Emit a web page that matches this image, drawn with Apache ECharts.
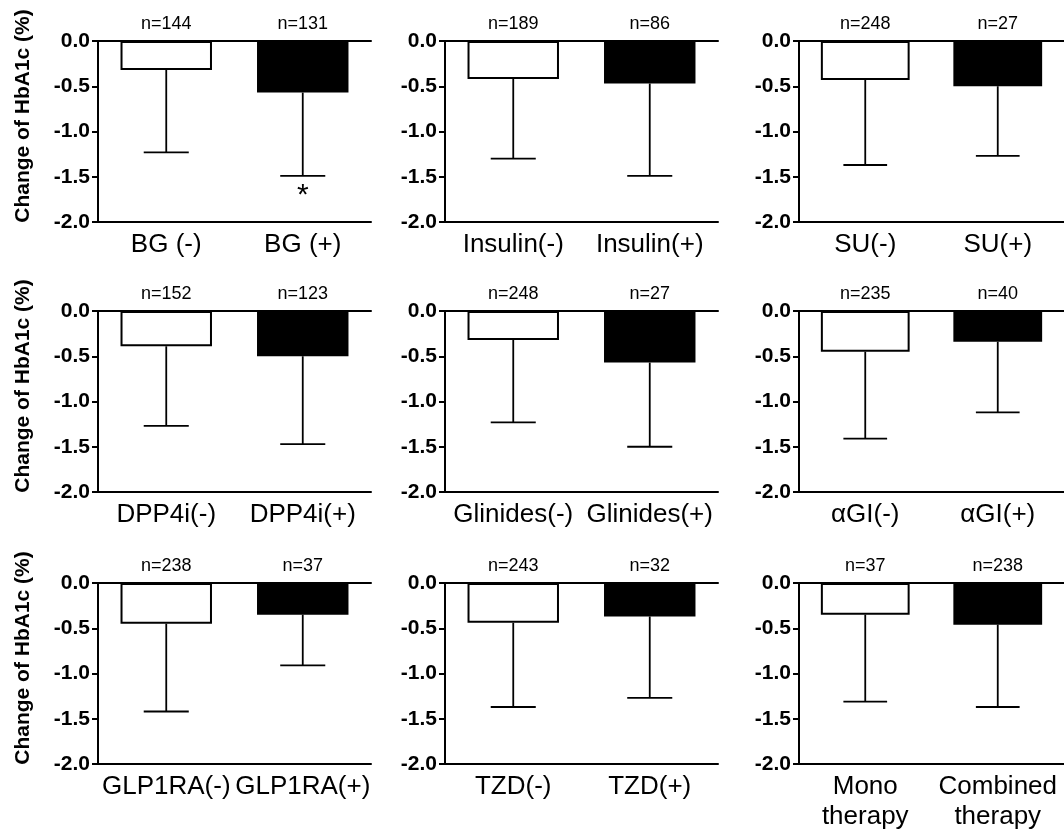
<!DOCTYPE html>
<html>
<head>
<meta charset="utf-8">
<script src="https://cdn.jsdelivr.net/npm/echarts@6/dist/echarts.min.js"></script>
<style>html,body{margin:0;padding:0;background:#fff}#c{width:1064px;height:834px}</style>
</head>
<body>
<div id="c"></div>
<script>
// ---- data ----
const categories = [
  ['BG (-)', 'BG (+)'],
  ['Insulin(-)', 'Insulin(+)'],
  ['SU(-)', 'SU(+)'],
  ['DPP4i(-)', 'DPP4i(+)'],
  ['Glinides(-)', 'Glinides(+)'],
  ['αGI(-)', 'αGI(+)'],
  ['GLP1RA(-)', 'GLP1RA(+)'],
  ['TZD(-)', 'TZD(+)'],
  ['Mono\ntherapy', 'Combined\ntherapy']
];
const nLabels = [
  ['n=144', 'n=131'],
  ['n=189', 'n=86'],
  ['n=248', 'n=27'],
  ['n=152', 'n=123'],
  ['n=248', 'n=27'],
  ['n=235', 'n=40'],
  ['n=238', 'n=37'],
  ['n=243', 'n=32'],
  ['n=37', 'n=238']
];
const meanChange = [
  [-0.32, -0.57],
  [-0.42, -0.47],
  [-0.43, -0.50],
  [-0.39, -0.50],
  [-0.32, -0.57],
  [-0.45, -0.34],
  [-0.45, -0.35],
  [-0.44, -0.37],
  [-0.35, -0.46]
];
const errorEnd = [
  [-1.23, -1.49],
  [-1.30, -1.49],
  [-1.37, -1.27],
  [-1.27, -1.47],
  [-1.23, -1.50],
  [-1.41, -1.12],
  [-1.42, -0.91],
  [-1.37, -1.27],
  [-1.31, -1.37]
];
const significance = [
  ['', '*'], ['', ''], ['', ''],
  ['', ''], ['', ''], ['', ''],
  ['', ''], ['', ''], ['', '']
];
const yTicks = { min: -2.0, max: 0.0, step: 0.5 };
const yTitle = 'Change of HbA1c (%)';

// ---- layout ----
const FONT = '"Liberation Sans", Arial, Helvetica, sans-serif';
const colLeft = [98, 445, 799];
const colWidth = 273;
const rowTop = [41, 311, 583];
const plotH = 181;

const chart = echarts.init(document.getElementById('c'), null, { renderer: 'canvas' });

const grid = [], xAxis = [], yAxis = [], series = [], graphic = [];
for (let p = 0; p < 9; p++) {
  const r = Math.floor(p / 3), c = p % 3;
  grid.push({ left: colLeft[c], top: rowTop[r], width: colWidth, height: plotH, containLabel: false });
  // bottom category axis
  xAxis.push({
    type: 'category', gridIndex: p, position: 'bottom', data: categories[p],
    axisLine: { onZero: false, lineStyle: { color: '#000', width: 2 } },
    axisTick: { alignWithLabel: true, length: 7, lineStyle: { color: '#000', width: 2 } },
    axisLabel: { color: '#000', fontFamily: FONT, fontSize: 26, margin: 8, lineHeight: 30, interval: 0 },
    splitLine: { show: false }
  });
  // top axis carrying n labels, line at 0.0
  xAxis.push({
    type: 'category', gridIndex: p, position: 'top', data: nLabels[p],
    axisLine: { onZero: false, lineStyle: { color: '#000', width: 2 } },
    axisTick: { show: false },
    axisLabel: { color: '#000', fontFamily: FONT, fontSize: 18, margin: 8, interval: 0 },
    splitLine: { show: false }
  });
  yAxis.push({
    type: 'value', gridIndex: p, min: yTicks.min, max: yTicks.max, interval: yTicks.step,
    axisLine: { show: true, lineStyle: { color: '#000', width: 2 } },
    axisTick: { show: true, length: 6, lineStyle: { color: '#000', width: 2 } },
    axisLabel: { color: '#000', fontFamily: FONT, fontSize: 21, fontWeight: 'bold', margin: 8,
      formatter: v => v.toFixed(1) },
    splitLine: { show: false }
  });
  series.push({
    type: 'bar', xAxisIndex: p * 2, yAxisIndex: p, barWidth: '67%',
    data: meanChange[p].map((v, i) => ({
      value: v,
      itemStyle: i === 0
        ? { color: '#fff', borderColor: '#000', borderWidth: 2 }
        : { color: '#000', borderColor: '#000', borderWidth: 2 }
    })),
    silent: true, animation: false
  });
  const sig = significance[p];
  series.push({
    type: 'custom', xAxisIndex: p * 2, yAxisIndex: p,
    data: meanChange[p].map((v, i) => [i, v, errorEnd[p][i]]),
    renderItem: (params, api) => {
      const top = api.coord([api.value(0), api.value(1)]);
      const end = api.coord([api.value(0), api.value(2)]);
      const half = api.size([1, 0])[0] * 0.165;
      const style = { stroke: '#000', lineWidth: 1.8 };
      const children = [
        { type: 'line', shape: { x1: top[0], y1: top[1], x2: end[0], y2: end[1] }, style },
        { type: 'line', shape: { x1: end[0] - half, y1: end[1], x2: end[0] + half, y2: end[1] }, style }
      ];
      const s = sig[params.dataIndex];
      if (s) {
        children.push({ type: 'text', style: { text: s, x: end[0], y: end[1] + 20,
          align: 'center', verticalAlign: 'middle', fontSize: 30, fontFamily: FONT, fill: '#000' } });
      }
      return { type: 'group', children };
    },
    z: 5, silent: true, animation: false
  });
  if (c === 0) {
    graphic.push({
      type: 'text', x: 23, y: rowTop[r] + plotH - 106, rotation: Math.PI / 2,
      style: { text: yTitle, fontFamily: FONT, fontSize: 21, fontWeight: 'bold', fill: '#000',
        align: 'center', verticalAlign: 'middle' }
    });
  }
}

chart.setOption({
  backgroundColor: '#fff',
  animation: false,
  grid, xAxis, yAxis, series, graphic
});
</script>
</body>
</html>
